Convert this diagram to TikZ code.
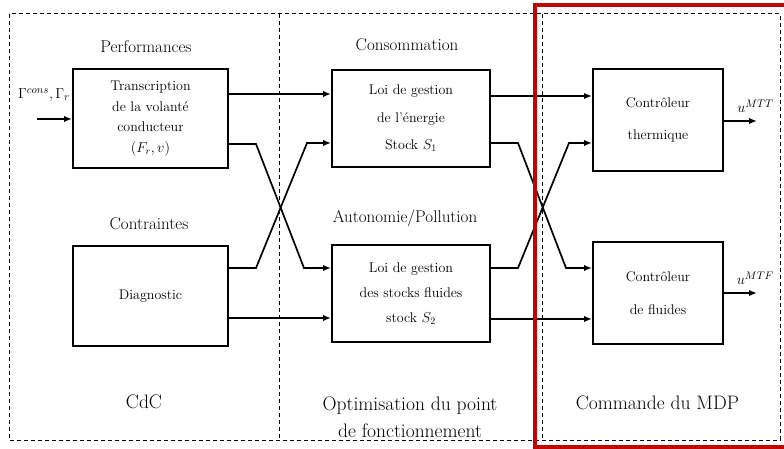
\documentclass[tikz,border=0pt]{standalone}
\usetikzlibrary{arrows.meta}
\definecolor{frameRed}{RGB}{192,4,4}
\newcommand{\boxfont}[1]{\fontsize{14}{#1}\selectfont}
\begin{document}
\begin{tikzpicture}[x=1pt,y=-1pt,
  box/.style={draw,line width=2pt,inner sep=0pt,align=center},
  link/.style={line width=1.7pt,-{Latex[length=8pt,width=6.5pt]}},
  frame/.style={line width=1pt,dash pattern=on 4pt off 3pt},
  title/.style={font=\fontsize{17}{19}\selectfont},
  zone/.style={font=\fontsize{19.5}{27}\selectfont,align=center},
  sig/.style={font=\fontsize{15}{17}\selectfont}]
\useasboundingbox (0,0) rectangle (784,449);
\clip (0,0) rectangle (784,449);
\draw[frame] (9,14) rectangle (780,440);
\draw[frame] (279,14) -- (279,440); \draw[frame] (542,14) -- (542,440);
\node[box,minimum width=155pt,minimum height=99pt,font=\boxfont{20.5}] (trans) at (150.5,118.5)
  {Transcription\\de la volant\'e\\conducteur\\$(F_r,v)$};
\node[box,minimum width=155pt,minimum height=100pt,font=\boxfont{16}] (diag) at (150.5,296) {Diagnostic};
\node[box,minimum width=158pt,minimum height=97pt,font=\boxfont{27.5}] (loi1) at (411,118.5)
  {Loi de gestion\\de l'\'energie\\Stock $S_1$};
\node[box,minimum width=158pt,minimum height=97pt,font=\boxfont{25}] (loi2) at (411,293.5)
  {Loi de gestion\\des stocks fluides\\stock $S_2$};
\node[box,minimum width=130pt,minimum height=102pt,font=\boxfont{32}] (ctherm) at (658,120)
  {Contr\^oleur\\thermique};
\node[box,minimum width=130pt,minimum height=102pt,font=\boxfont{33}] (cfluid) at (658,293)
  {Contr\^oleur\\de fluides};
\node[title] (perf) at (146,47) {Performances};
\node[title] (contr) at (149,224) {Contraintes};
\node[title] (conso) at (407,45) {Consommation};
\node[title] (auto) at (405,218) {Autonomie/Pollution};
\node[zone] (cdc) at (144,402) {CdC};
\node[zone] (optim) at (410,417) {Optimisation du point\\de fonctionnement};
\node[zone] (cmd) at (657.5,403) {Commande du MDP};
\node[sig] (gam) at (44,95) {$\Gamma^{cons},\Gamma_r$};
\coordinate (in) at (37,119);
\draw[link] (in) -- (trans.west |- in);
\draw[link] ([yshift=24.5pt]trans.east) -- ([yshift=24.5pt]loi1.west);
\draw[link] ([yshift=-25.5pt]trans.east) -- ++(27,0) -- ++(48,124) -- ([yshift=25.5pt]loi2.west);
\draw[link] ([yshift=28pt]diag.east) -- ++(27,0) -- ++(51,-125) -- ([yshift=-24.5pt]loi1.west);
\draw[link] ([yshift=-22pt]diag.east) -- ([yshift=-24.5pt]loi2.west);
\draw[link] ([yshift=22.5pt]loi1.east) -- ([yshift=24pt]ctherm.west);
\draw[link] ([yshift=-24.5pt]loi1.east) -- ++(27,0) -- ++(48,125) -- ([yshift=25pt]cfluid.west);
\draw[link] ([yshift=25.5pt]loi2.east) -- ++(27,0) -- ++(51,-125) -- ([yshift=-23pt]ctherm.west);
\draw[link] ([yshift=-25.5pt]loi2.east) -- ([yshift=-26pt]cfluid.west);
\draw[link] ([yshift=-1pt]ctherm.east) -- ++(33,0) node[sig,pos=0.95,above=4pt] (uT) {$u^{MTT}$};
\draw[link] (cfluid.east) -- ++(33,0) node[sig,pos=0.95,above=4pt] (uF) {$u^{MTF}$};
\draw[frameRed,line width=4.5pt] (535,5) rectangle (800,447);
\end{tikzpicture}
\end{document}
